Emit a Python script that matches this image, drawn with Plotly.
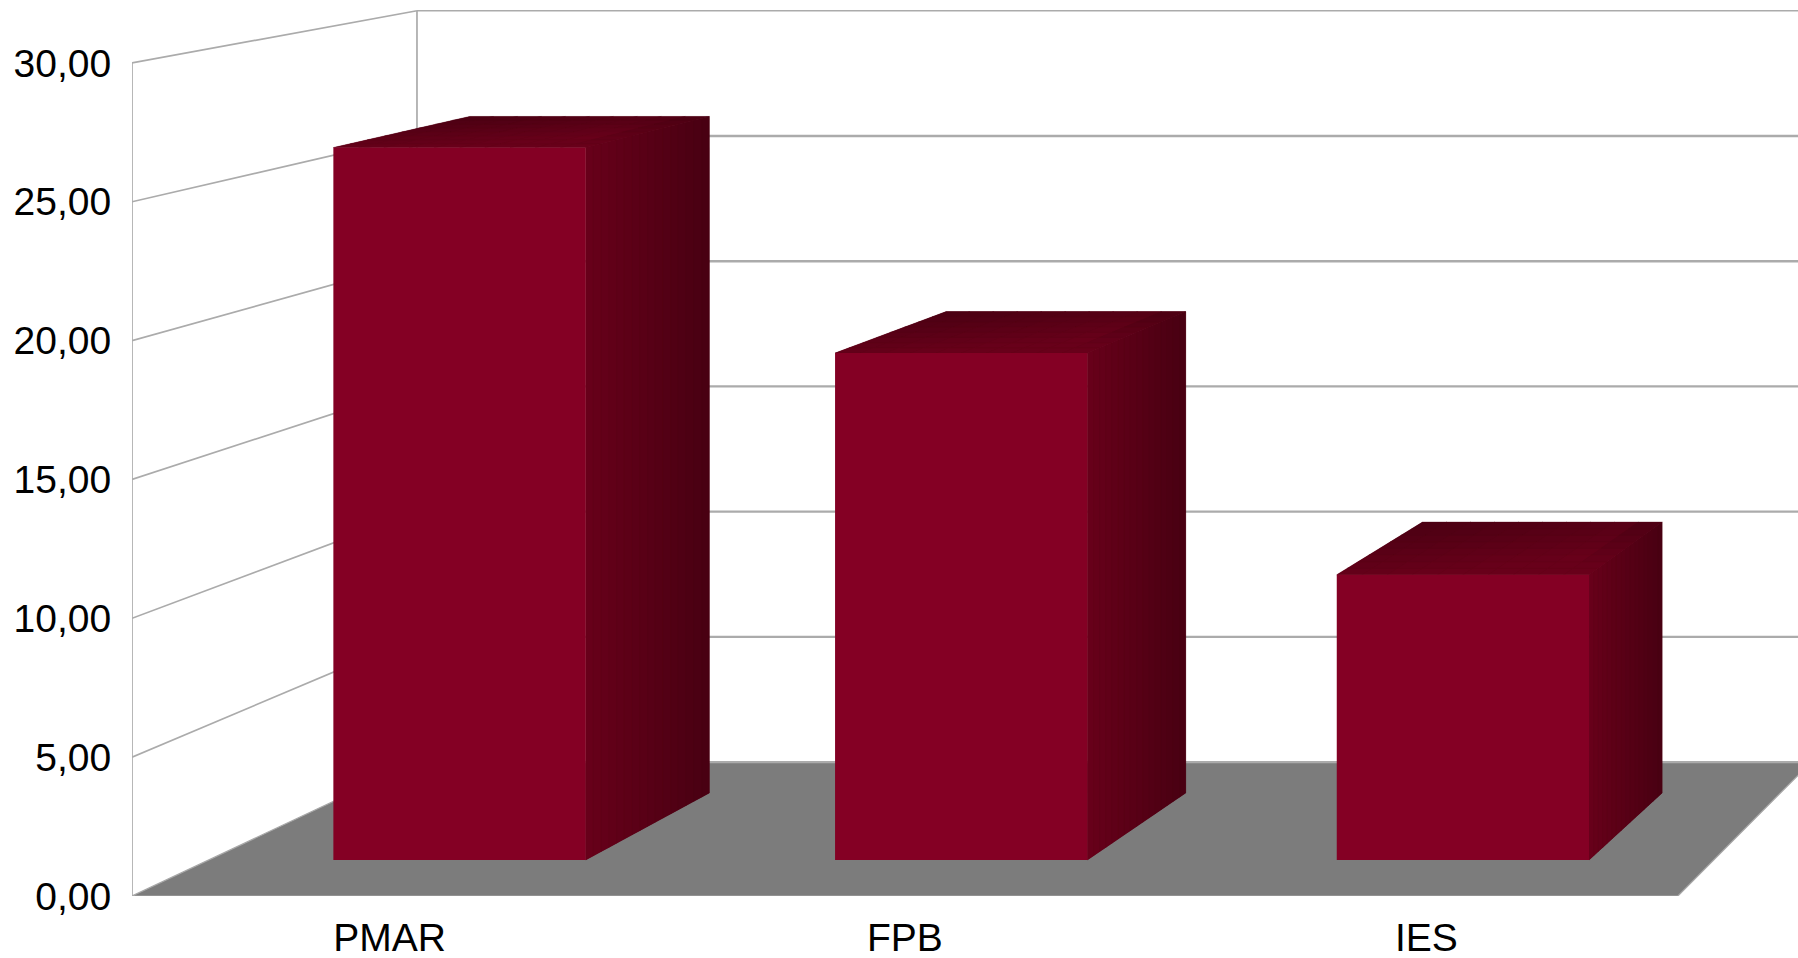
import plotly.graph_objects as go

# Data
categories = ["PMAR", "FPB", "IES"]
values = [26.35, 18.75, 10.55]
y_ticks = [0, 5, 10, 15, 20, 25, 30]
y_tick_labels = ["0,00", "5,00", "10,00", "15,00", "20,00", "25,00", "30,00"]

# Figure frame (pixels)
W, H = 1798, 958
LEFT, BOTTOM_Y = 132, 896
CAT_W = 515.3
UNIT = 27.77
X_RANGE = [-0.5, -0.5 + (W - LEFT) / CAT_W]
Y_RANGE = [0, BOTTOM_Y / UNIT]

# Perspective camera, in data units
VX = (3037 - LEFT) / CAT_W - 0.5
VY = (BOTTOM_Y + 469) / UNIT
S_WALL = 0.9019
S_BAR_FRONT = 0.9736
S_BAR_BACK = 0.9245
BAR_W = 0.503


def px(x, s):
    return VX + (x - VX) * s


def py(v, s):
    return VY + (v - VY) * s


def shade(r):
    return "rgb({},0,{})".format(round(r), round(r * 0.25))


def poly(xs, ys, fill, line=None, lw=1):
    return go.Scatter(x=xs, y=ys, mode="lines", fill="toself", fillcolor=fill,
                      line=dict(color=line or fill, width=lw), hoverinfo="skip", showlegend=False)


def seg(xs, ys, color="#ababab", width=1.7, clip=True):
    return go.Scatter(x=xs, y=ys, mode="lines", line=dict(color=color, width=width),
                      hoverinfo="skip", showlegend=False, cliponaxis=clip)


fig = go.Figure()

# Floor
x0, x1 = -0.5, len(categories) - 0.5
fig.add_trace(poly([x0, x1, px(x1, S_WALL), px(x0, S_WALL), x0],
                   [0, 0, py(0, S_WALL), py(0, S_WALL), 0], "#7c7c7c", "#a8a8a8", 1.2))

# Walls
fig.add_trace(seg([x0, x0], [0, y_ticks[-1]], clip=False))
fig.add_trace(seg([px(x0, S_WALL), px(x0, S_WALL)], [py(0, S_WALL), py(y_ticks[-1], S_WALL)]))
for t in y_ticks:
    if t > 0:
        fig.add_trace(seg([x0, px(x0, S_WALL)], [t, py(t, S_WALL)]))
    fig.add_trace(seg([px(x0, S_WALL), X_RANGE[1] + 1], [py(t, S_WALL), py(t, S_WALL)],
                      width=1.4 if t == y_ticks[-1] else 2.4))

# Bar sides and tops, shaded over a solid base
R_LIGHT, R_DARK = 104, 72
F, B = S_BAR_FRONT, S_BAR_BACK
NS, NX, NZ = 16, 10, 8


def side_r(sx, xf, xb):
    return R_LIGHT + (R_DARK - R_LIGHT) * max(0.0, min(1.0, (sx - xf) / (xb - xf)))


for i, v in enumerate(values):
    l, r = i - BAR_W / 2, i + BAR_W / 2
    xf, xb = px(r, F), px(r, B)
    fig.add_trace(poly([xf, xb, xb, xf, xf],
                       [py(0, F), py(0, B), py(v, B), py(v, F), py(0, F)], shade(88), lw=0))
    fig.add_trace(poly([px(l, F), xf, xb, px(l, B), px(l, F)],
                       [py(v, F), py(v, F), py(v, B), py(v, B), py(v, F)], shade(84), lw=0))
    for k in range(NS):
        a = F + (B - F) * k / NS
        b = F + (B - F) * (k + 1) / NS
        fig.add_trace(poly([px(r, a), px(r, b), px(r, b), px(r, a), px(r, a)],
                           [py(0, a), py(0, b), py(v, b), py(v, a), py(0, a)],
                           shade(side_r((px(r, a) + px(r, b)) / 2, xf, xb)), lw=0.4))
    for m in range(NX):
        u0, u1 = l + BAR_W * m / NX, l + BAR_W * (m + 1) / NX
        for k in range(NZ):
            a = F + (B - F) * k / NZ
            b = F + (B - F) * (k + 1) / NZ
            right = (m + 0.5) / NX
            front = 1 - (k + 0.5) / NZ
            sm = (a + b) / 2
            rr = min(74 + 14 * right + 26 * front, side_r(px((u0 + u1) / 2, sm), xf, xb))
            fig.add_trace(poly([px(u0, a), px(u1, a), px(u1, b), px(u0, b), px(u0, a)],
                               [py(v, a), py(v, a), py(v, b), py(v, b), py(v, a)],
                               shade(rr), lw=0.4))

# Front faces: real bars on an axis pair scaled to the bars' depth
fig.add_trace(go.Bar(x=list(range(len(categories))), y=values, width=BAR_W,
                     marker=dict(color="#840024", line=dict(width=0)),
                     xaxis="x2", yaxis="y2", showlegend=False))

fig.update_layout(
    width=W, height=H, margin=dict(l=LEFT, r=0, t=0, b=H - BOTTOM_Y),
    paper_bgcolor="white", plot_bgcolor="white", showlegend=False,
    font=dict(family="Liberation Sans", size=39, color="black"),
    xaxis=dict(range=X_RANGE, tickvals=[0, 1, 2.012], ticktext=categories, automargin=False,
               showgrid=False, zeroline=False, showline=False, ticks="outside", ticklen=7,
               tickcolor="rgba(0,0,0,0)", tickfont=dict(size=39)),
    yaxis=dict(range=Y_RANGE, tickvals=y_ticks, ticktext=y_tick_labels, automargin=False,
               showgrid=False, zeroline=False, showline=False, ticks="outside", ticklen=12,
               tickcolor="rgba(0,0,0,0)", tickfont=dict(size=39)),
    xaxis2=dict(range=[(X_RANGE[0] - px(0, S_BAR_FRONT)) / S_BAR_FRONT,
                       (X_RANGE[1] - px(0, S_BAR_FRONT)) / S_BAR_FRONT],
                overlaying="x", anchor="y2", visible=False, automargin=False),
    yaxis2=dict(range=[(Y_RANGE[0] - py(0, S_BAR_FRONT)) / S_BAR_FRONT,
                       (Y_RANGE[1] - py(0, S_BAR_FRONT)) / S_BAR_FRONT],
                overlaying="y", anchor="x2", visible=False, automargin=False),
)

fig.write_html("out.html", config=dict(displayModeBar=False),
               post_script="document.body.style.margin='0';document.body.style.overflow='hidden';")
